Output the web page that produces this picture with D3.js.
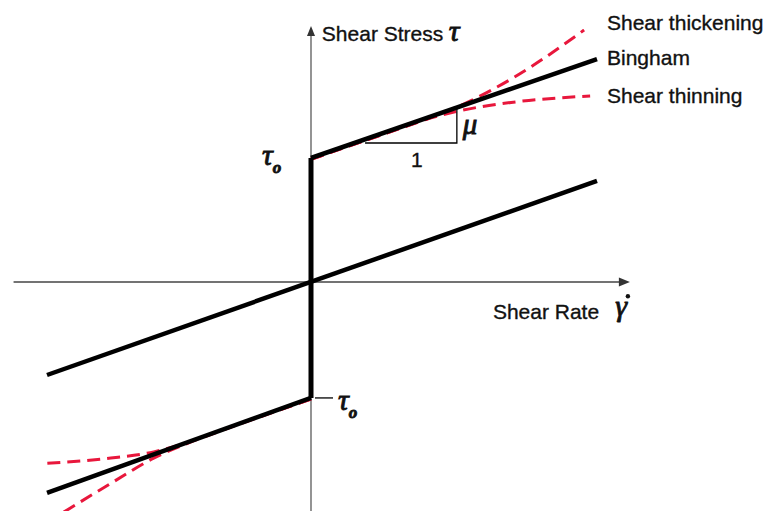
<!DOCTYPE html>
<html>
<head>
<meta charset="utf-8">
<script src="https://cdn.jsdelivr.net/npm/d3@7"></script>
<style>
  body { margin: 0; background: #fff; }
  svg { display: block; }
  .lbl { font-family: "Liberation Sans", Arial, sans-serif; font-size: 21px; fill: #111; stroke: #111; stroke-width: 0.35px; }
  .greek { font-family: "Liberation Serif", "Times New Roman", serif; font-style: italic; fill: #111; stroke: #111; stroke-width: 0.9px; }
</style>
</head>
<body>
<svg width="766" height="511"></svg>
<script>
"use strict";

// data, in units of (shear rate, shear stress); tau0 = 1
var binghamPos = [[0, 1.0], [1.0, 1.798]];
var binghamNeg = [[0, -0.935], [-0.923, -1.70]];
var newtonian = [[-0.923, -0.75], [1.0, 0.815]];
var yieldJump = [[0, 1.0], [0, -0.935]];

var thickeningPos = [[0, 0.99], [0.25, 1.19], [0.4, 1.31], [0.51, 1.41], [0.706, 1.645], [0.955, 2.032]];
var thinningPos = [[0, 0.99], [0.25, 1.19], [0.4, 1.31], [0.5, 1.371], [0.7, 1.448], [0.976, 1.50]];
var thickeningNeg = [[0, -0.945], [-0.25, -1.145], [-0.42, -1.29], [-0.55, -1.42], [-0.692, -1.613], [-0.878, -1.875]];
var thinningNeg = [[0, -0.945], [-0.25, -1.145], [-0.42, -1.285], [-0.55, -1.37], [-0.7, -1.42], [-0.941, -1.465]];

var xAxisExtent = [-1.04, 1.115];
var yAxisExtent = [-1.9, 2.065];

// slope triangle (run from / to, on level)
var slopeRun = [0.189, 0.51];
var slopeLevel = 1.121;

var curveLabels = [
    {text: "Shear thickening", x: 1.035, y: 2.032},
    {text: "Bingham", x: 1.035, y: 1.75},
    {text: "Shear thinning", x: 1.035, y: 1.444}
];

var svg = d3.select("svg");

var x = d3.scaleLinear().domain([0, 1]).range([311, 597]);
var y = d3.scaleLinear().domain([0, 1]).range([282, 158]);

var line = d3.line()
    .x(function (d) { return x(d[0]); })
    .y(function (d) { return y(d[1]); });

var smooth = d3.line()
    .x(function (d) { return x(d[0]); })
    .y(function (d) { return y(d[1]); })
    .curve(d3.curveMonotoneX);

// axes
svg.append("line")
    .attr("x1", x(xAxisExtent[0])).attr("x2", x(xAxisExtent[1]) - 6)
    .attr("y1", y(0)).attr("y2", y(0))
    .attr("stroke", "#444").attr("stroke-width", 1.6);
svg.append("path")
    .attr("d", "M" + x(xAxisExtent[1]) + "," + y(0) + "l-11,-4.5l0,9z")
    .attr("fill", "#333");

svg.append("line")
    .attr("x1", x(0)).attr("x2", x(0))
    .attr("y1", y(yAxisExtent[0])).attr("y2", y(yAxisExtent[1]) + 6)
    .attr("stroke", "#888").attr("stroke-width", 1.8);
svg.append("path")
    .attr("d", "M" + x(0) + "," + y(yAxisExtent[1]) + "l-4,10l8,0z")
    .attr("fill", "#333");

// dashed non-newtonian curves
[thickeningPos, thinningPos, thickeningNeg, thinningNeg].forEach(function (s) {
    svg.append("path")
        .attr("d", smooth(s))
        .attr("fill", "none")
        .attr("stroke", "#e8173c")
        .attr("stroke-width", 3)
        .attr("stroke-dasharray", "13,7");
});

// solid lines
[newtonian, binghamPos, binghamNeg].forEach(function (s) {
    svg.append("path")
        .attr("d", line(s))
        .attr("fill", "none")
        .attr("stroke", "#000")
        .attr("stroke-width", 4.5);
});
svg.append("path")
    .attr("d", line(yieldJump))
    .attr("fill", "none")
    .attr("stroke", "#000")
    .attr("stroke-width", 5);

// slope triangle
var mu = (binghamPos[1][1] - binghamPos[0][1]) / (binghamPos[1][0] - binghamPos[0][0]);
var slopeTop = binghamPos[0][1] + mu * slopeRun[1];
svg.append("path")
    .attr("d", line([[slopeRun[0], slopeLevel], [slopeRun[1], slopeLevel], [slopeRun[1], slopeTop]]))
    .attr("fill", "none")
    .attr("stroke", "#000")
    .attr("stroke-width", 1.3);

svg.append("text").attr("class", "lbl")
    .attr("x", x((slopeRun[0] + slopeRun[1]) / 2) + 6).attr("y", y(0.927))
    .attr("text-anchor", "middle").text("1");
svg.append("text").attr("class", "greek")
    .attr("x", x(0.531)).attr("y", y(1.19))
    .style("font-size", "29px").text("μ");

// curve labels
svg.selectAll(".curveLabel")
    .data(curveLabels)
    .enter()
    .append("text")
    .attr("class", "lbl curveLabel")
    .attr("x", function (d) { return x(d.x); })
    .attr("y", function (d) { return y(d.y); })
    .text(function (d) { return d.text; });

// axis titles
svg.append("text").attr("class", "lbl")
    .attr("x", x(0.038)).attr("y", y(1.944)).text("Shear Stress");
svg.append("text").attr("class", "greek")
    .attr("x", x(0.482)).attr("y", y(1.944))
    .style("font-size", "30px").text("τ");

svg.append("text").attr("class", "lbl")
    .attr("x", x(0.636)).attr("y", y(-0.298)).text("Shear Rate");
svg.append("text").attr("class", "greek")
    .attr("x", x(1.064)).attr("y", y(-0.274))
    .style("font-size", "30px").text("γ");
svg.append("circle")
    .attr("cx", x(1.108)).attr("cy", y(-0.115))
    .attr("r", 2.2).attr("fill", "#111");

// yield stress labels
var tauUp = svg.append("text").attr("class", "greek")
    .attr("x", x(-0.171)).attr("y", y(0.944));
tauUp.append("tspan").style("font-size", "30px").text("τ");
tauUp.append("tspan").style("font-size", "17px").style("font-weight", "bold")
    .attr("dy", 8).text("o");

svg.append("line")
    .attr("x1", x(0.014)).attr("x2", x(0.077))
    .attr("y1", y(yieldJump[1][1])).attr("y2", y(yieldJump[1][1]))
    .attr("stroke", "#000").attr("stroke-width", 1.3);
var tauDn = svg.append("text").attr("class", "greek")
    .attr("x", x(0.094)).attr("y", y(-1.032));
tauDn.append("tspan").style("font-size", "30px").text("τ");
tauDn.append("tspan").style("font-size", "17px").style("font-weight", "bold")
    .attr("dy", 8).text("o");
</script>
</body>
</html>
